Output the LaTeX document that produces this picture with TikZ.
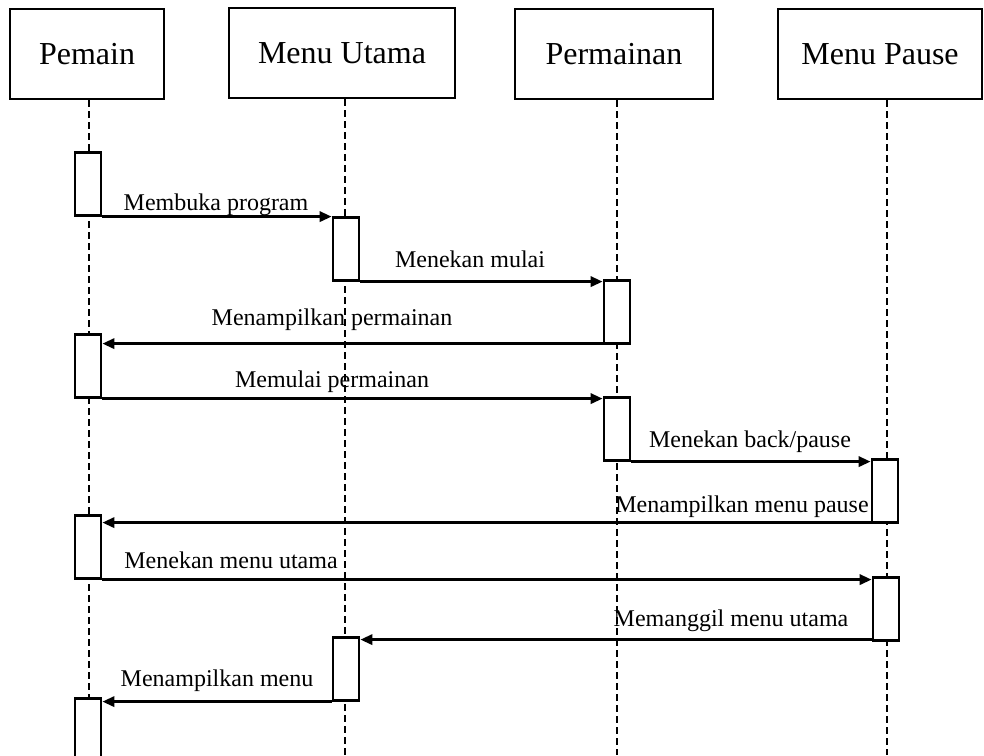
\documentclass[tikz,border=0pt]{standalone}
\usepackage{fontspec}
\setmainfont{Liberation Serif}
\usetikzlibrary{arrows.meta}
\begin{document}
\begin{tikzpicture}[x=1pt,y=-1pt,
  header/.style={draw,line width=2.6pt,fill=white,minimum height=90pt,font=\fontsize{32}{37}\selectfont,inner sep=0pt},
  act/.style={draw,line width=2.6pt,fill=white,minimum width=26pt,minimum height=63pt,inner sep=0pt,anchor=north},
  life/.style={line width=2.4pt,dash pattern=on 7pt off 4pt},
  msg/.style={line width=3pt,-{Triangle[length=12pt,width=10pt]}},
  lbl/.style={anchor=base,inner sep=0pt,font=\fontsize{24}{28}\selectfont}]
\clip (0,0) rectangle (984,755);
\fill[white] (0,0) rectangle (984,755);

% participants
\node[header,minimum width=154pt] (pemain) at (87,54) {Pemain};
\node[header,minimum width=226pt] (utama) at (342,53) {Menu Utama};
\node[header,minimum width=198pt] (game) at (614,54) {Permainan};
\node[header,minimum width=204pt] (pause) at (880,54) {Menu Pause};

% lifeline positions
\coordinate (x1) at (89,755);
\coordinate (x2) at (345,755);
\coordinate (x3) at (617,755);
\coordinate (x4) at (887,755);

\draw[life] (pemain.south -| x1) -- (x1);
\draw[life] (utama.south -| x2) -- (x2);
\draw[life] (game.south -| x3) -- (x3);
\draw[life] (pause.south -| x4) -- (x4);

% activation bars
\node[act] (a1) at (88,151) {};
\node[act] (a2) at (88,333) {};
\node[act] (a3) at (88,514) {};
\node[act] (a4) at (88,697) {};
\node[act] (m1) at (346,216) {};
\node[act] (m2) at (346,636) {};
\node[act] (p1) at (617,279) {};
\node[act] (p2) at (617,396) {};
\node[act] (q1) at (885,458) {};
\node[act] (q2) at (886,576) {};

% messages
\draw[msg] (a1.south east) -- (a1.south east -| m1.west);
\draw[msg] (m1.south east) -- (m1.south east -| p1.west);
\draw[msg] ([yshift=1pt]p1.south west) -- ([yshift=1pt]p1.south west -| a2.east);
\draw[msg] (a2.south east) -- (a2.south east -| p2.west);
\draw[msg] (p2.south east) -- (p2.south east -| q1.west);
\draw[msg] ([yshift=1pt]q1.south west) -- ([yshift=1pt]q1.south west -| a3.east);
\draw[msg] (a3.south east) -- (a3.south east -| q2.west);
\draw[msg] ([yshift=2pt]q2.south west) -- ([yshift=2pt]q2.south west -| m2.east);
\draw[msg] (m2.south west) -- (m2.south west -| a4.east);

% message labels
\node[lbl] (t1) at (216,210) {Membuka program};
\node[lbl] (t2) at (470,267) {Menekan mulai};
\node[lbl] (t3) at (332,325) {Menampilkan permainan};
\node[lbl] (t4) at (332,387) {Memulai permainan};
\node[lbl] (t5) at (750,447) {Menekan back/pause};
\node[lbl] (t6) at (742,512) {Menampilkan menu pause};
\node[lbl] (t7) at (231,568) {Menekan menu utama};
\node[lbl] (t8) at (731,626) {Memanggil menu utama};
\node[lbl] (t9) at (217,686) {Menampilkan menu};
\end{tikzpicture}
\end{document}
